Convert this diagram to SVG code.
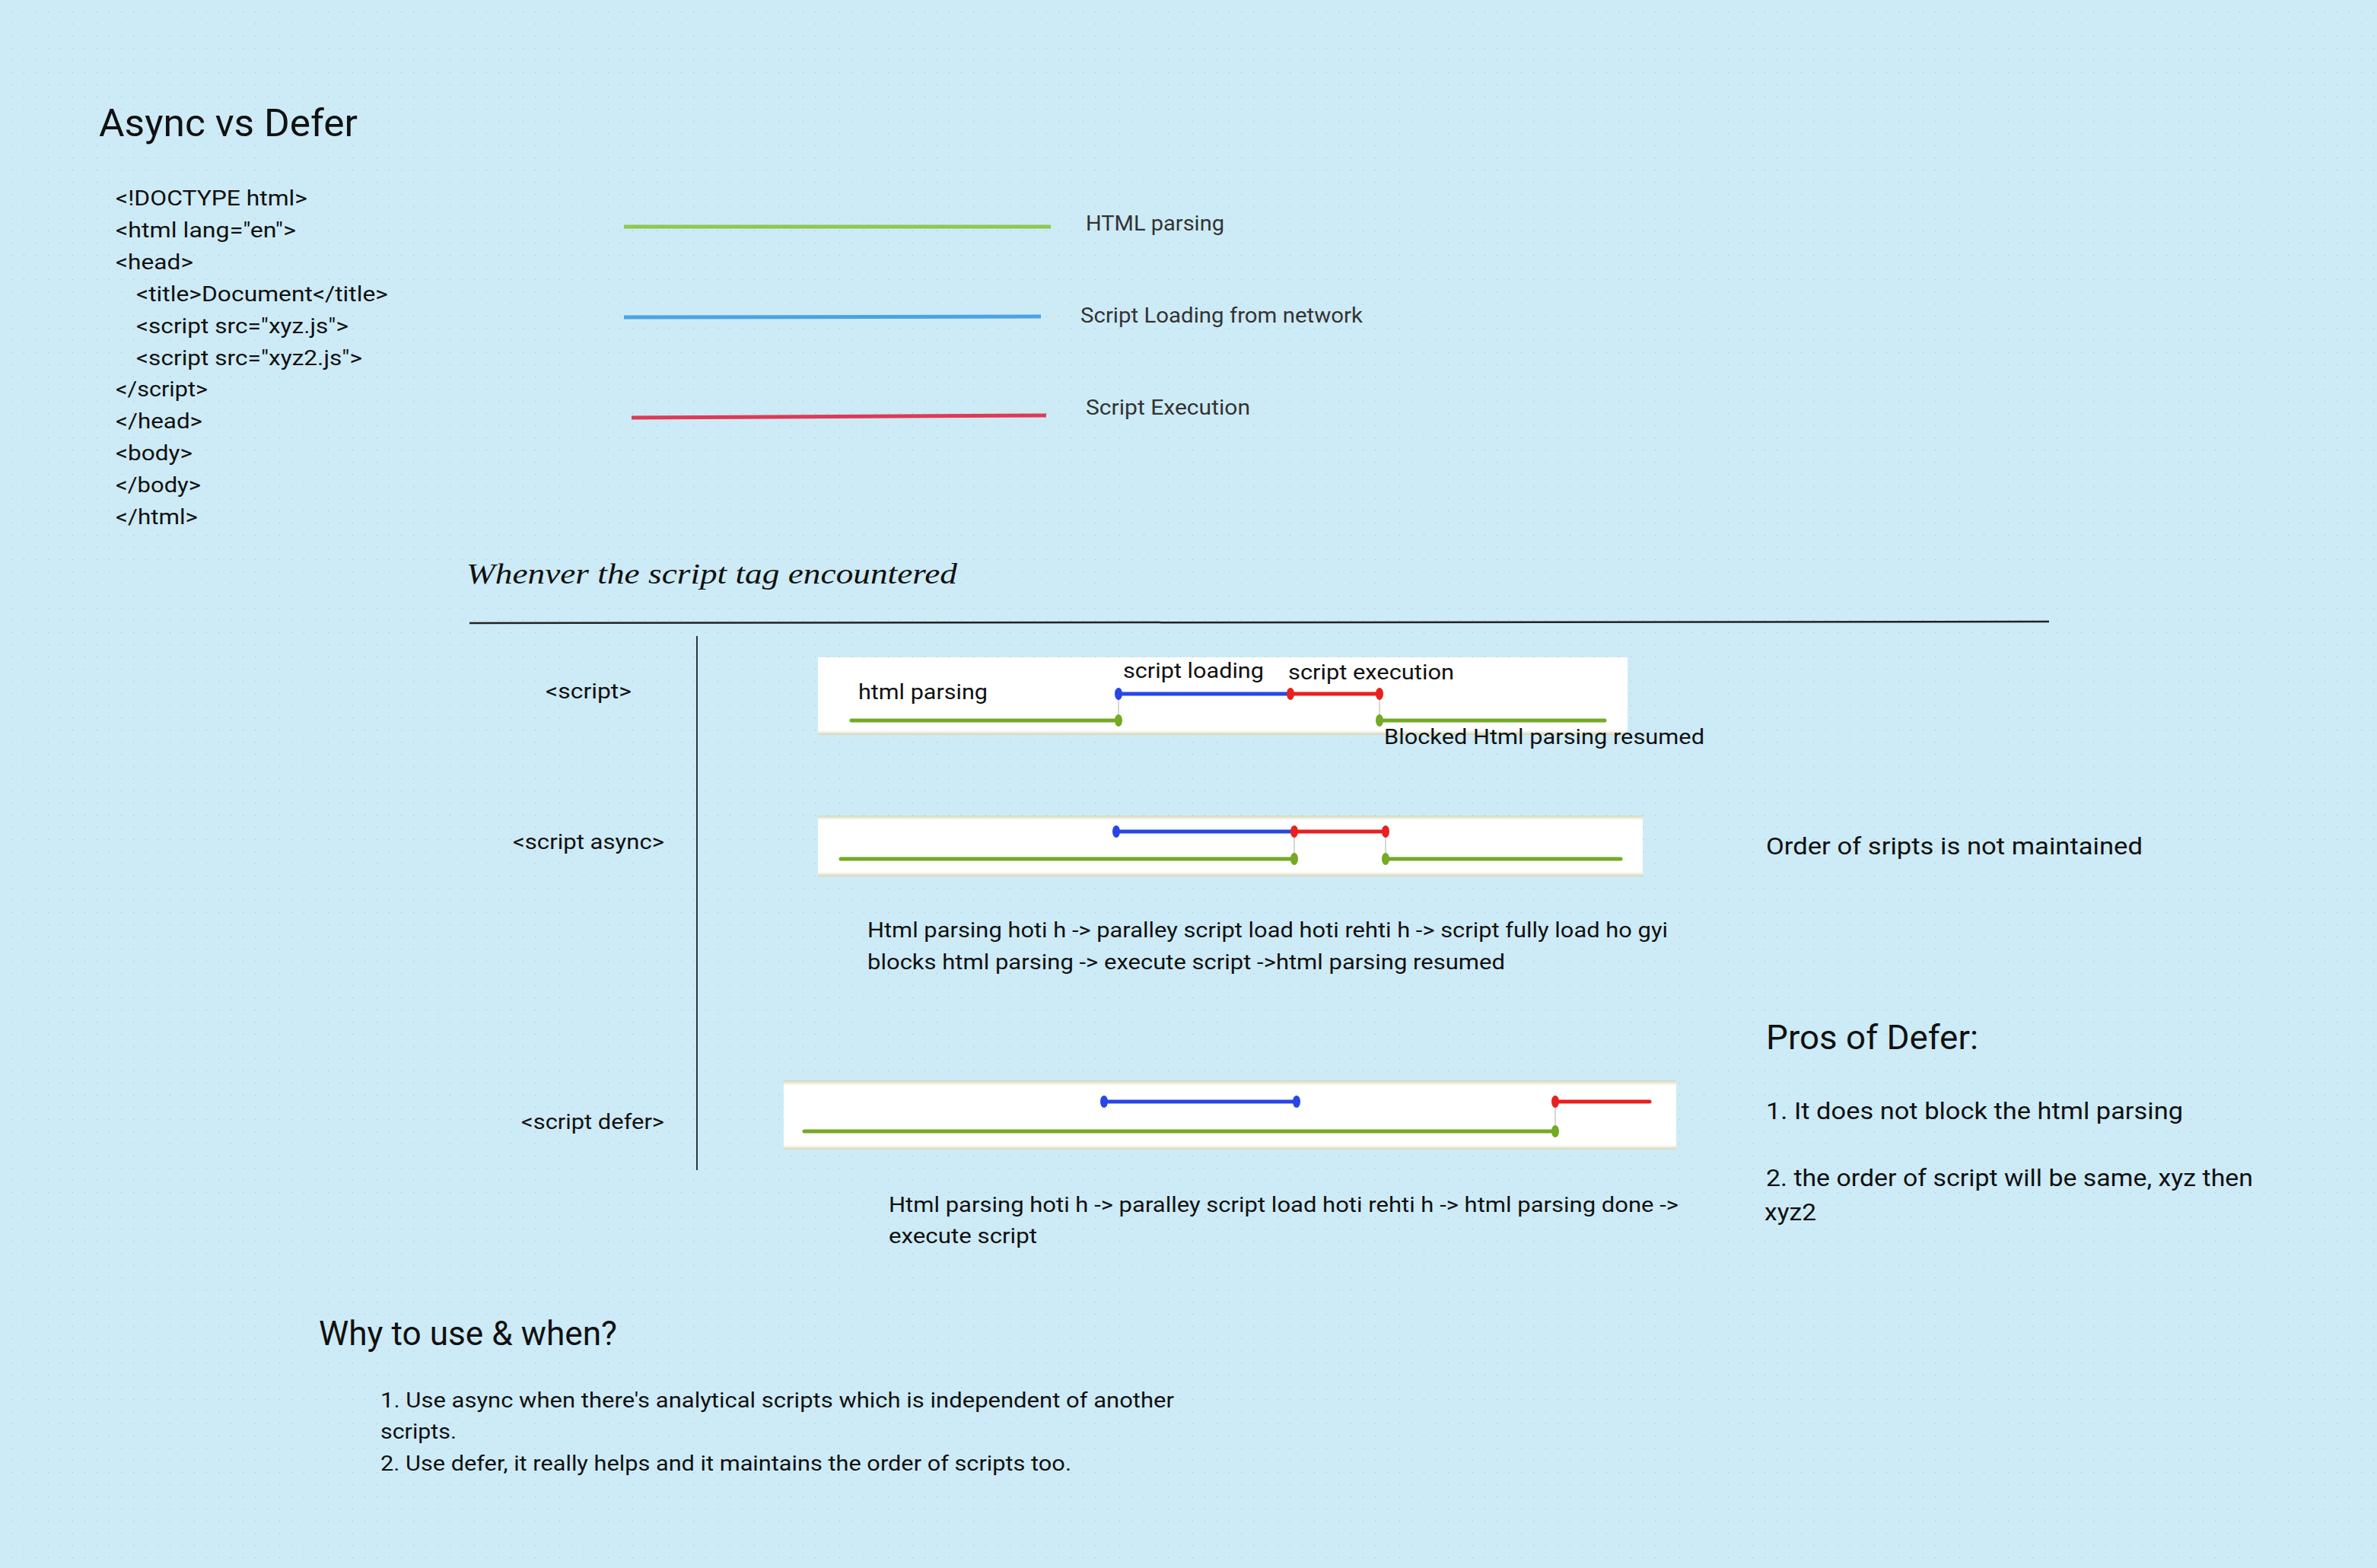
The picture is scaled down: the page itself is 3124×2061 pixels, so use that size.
<svg xmlns="http://www.w3.org/2000/svg" width="3124" height="2061" viewBox="0 0 3124 2061">
<defs>
<pattern id="dots" x="0" y="0" width="16" height="16" patternUnits="userSpaceOnUse">
<rect x="15" y="15" width="2" height="2" fill="#a8bac2"/>
</pattern>
<linearGradient id="edgeT" x1="0" y1="0" x2="0" y2="1">
<stop offset="0" stop-color="#d4d6b6"/><stop offset="1" stop-color="#ffffff"/>
</linearGradient>
<linearGradient id="edgeB" x1="0" y1="0" x2="0" y2="1">
<stop offset="0" stop-color="#ffffff"/><stop offset="1" stop-color="#d4d6b6"/>
</linearGradient>
</defs>
<style>
.t{font-family:Roboto,'Liberation Sans',Arial,sans-serif;fill:#111}
.code{font-size:28px}
.b{font-size:28px}
.r{font-size:32px}
.h{font-size:44px}
.leg{font-size:28px;fill:#333}
.hand{font-family:'Liberation Serif','DejaVu Serif',serif;font-style:italic;font-size:38px;fill:#111}
.bl{stroke:#2746e8;stroke-width:5;stroke-linecap:round;fill:none}
.rd{stroke:#e8201f;stroke-width:5;stroke-linecap:round;fill:none}
.gr{stroke:#74aa24;stroke-width:5;stroke-linecap:round;fill:none}
.tick{stroke:#c8c8c8;stroke-width:1.5}
.dB{fill:#2746e8}.dR{fill:#e8201f}.dG{fill:#74aa24}
.panel{fill:#ffffff}
</style>
<rect width="3124" height="2061" fill="#cdebf6"/>
<rect width="3124" height="2061" fill="url(#dots)"/>

<g id="title"><text class="t" x="130" y="179" font-size="50" textLength="340" lengthAdjust="spacingAndGlyphs">Async vs Defer</text></g>

<g id="code">
<text class="t code" x="152" y="270" textLength="252" lengthAdjust="spacingAndGlyphs">&lt;!DOCTYPE html&gt;</text>
<text class="t code" x="152" y="312" textLength="237" lengthAdjust="spacingAndGlyphs">&lt;html lang="en"&gt;</text>
<text class="t code" x="152" y="354" textLength="102" lengthAdjust="spacingAndGlyphs">&lt;head&gt;</text>
<text class="t code" x="179" y="396" textLength="331" lengthAdjust="spacingAndGlyphs">&lt;title&gt;Document&lt;/title&gt;</text>
<text class="t code" x="179" y="438" textLength="279" lengthAdjust="spacingAndGlyphs">&lt;script src="xyz.js"&gt;</text>
<text class="t code" x="179" y="480" textLength="297" lengthAdjust="spacingAndGlyphs">&lt;script src="xyz2.js"&gt;</text>
<text class="t code" x="152" y="521" textLength="121" lengthAdjust="spacingAndGlyphs">&lt;/script&gt;</text>
<text class="t code" x="152" y="563" textLength="114" lengthAdjust="spacingAndGlyphs">&lt;/head&gt;</text>
<text class="t code" x="152" y="605" textLength="101" lengthAdjust="spacingAndGlyphs">&lt;body&gt;</text>
<text class="t code" x="152" y="647" textLength="112" lengthAdjust="spacingAndGlyphs">&lt;/body&gt;</text>
<text class="t code" x="152" y="689" textLength="108" lengthAdjust="spacingAndGlyphs">&lt;/html&gt;</text>
</g>

<g id="legend">
<line x1="820" y1="298" x2="1381" y2="298" stroke="#8cc94e" stroke-width="5"/>
<text class="t leg" x="1427" y="303" textLength="182" lengthAdjust="spacingAndGlyphs">HTML parsing</text>
<line x1="820" y1="417" x2="1368" y2="416" stroke="#4ba3e3" stroke-width="5"/>
<text class="t leg" x="1420" y="424" textLength="371" lengthAdjust="spacingAndGlyphs">Script Loading from network</text>
<line x1="830" y1="549" x2="1375" y2="546" stroke="#de3a55" stroke-width="5"/>
<text class="t leg" x="1427" y="545" textLength="216" lengthAdjust="spacingAndGlyphs">Script Execution</text>
</g>

<g id="heading"><text class="hand" x="613" y="767" textLength="645" lengthAdjust="spacingAndGlyphs">Whenver the script tag encountered</text></g>

<g id="dividers">
<line x1="617" y1="819" x2="2693" y2="817" stroke="#222" stroke-width="2.5"/>
<line x1="916" y1="836" x2="916" y2="1538" stroke="#333" stroke-width="2"/>
</g>

<g id="row-script">
<text class="t b" x="717" y="918" textLength="113" lengthAdjust="spacingAndGlyphs">&lt;script&gt;</text>
<rect class="panel" x="1075" y="864" width="1064" height="102"/>
<rect x="1075" y="960" width="1064" height="6" fill="url(#edgeB)"/>
<text class="t b" x="1128" y="919" textLength="170" lengthAdjust="spacingAndGlyphs">html parsing</text>
<text class="t b" x="1476" y="891" textLength="185" lengthAdjust="spacingAndGlyphs">script loading</text>
<text class="t b" x="1693" y="893" textLength="218" lengthAdjust="spacingAndGlyphs">script execution</text>
<line class="tick" x1="1470" y1="912" x2="1470" y2="947"/>
<line class="tick" x1="1813" y1="912" x2="1813" y2="947"/>
<line class="bl" x1="1470" y1="912" x2="1696" y2="912"/>
<line class="rd" x1="1696" y1="912" x2="1813" y2="912"/>
<line class="gr" x1="1119" y1="947" x2="1470" y2="947"/>
<line class="gr" x1="1813" y1="947" x2="2109" y2="947"/>
<ellipse class="dB" cx="1470" cy="912" rx="5" ry="8"/>
<ellipse class="dR" cx="1696" cy="912" rx="5" ry="8"/>
<ellipse class="dR" cx="1813" cy="912" rx="5" ry="8"/>
<ellipse class="dG" cx="1470" cy="947" rx="5" ry="8"/>
<ellipse class="dG" cx="1813" cy="947" rx="5" ry="8"/>
<text class="t b" x="1819" y="978" textLength="421" lengthAdjust="spacingAndGlyphs">Blocked Html parsing resumed</text>
</g>

<g id="row-async">
<text class="t b" x="674" y="1116" textLength="199" lengthAdjust="spacingAndGlyphs">&lt;script async&gt;</text>
<rect class="panel" x="1075" y="1072" width="1084" height="80"/>
<rect x="1075" y="1072" width="1084" height="6" fill="url(#edgeT)"/>
<rect x="1075" y="1146" width="1084" height="6" fill="url(#edgeB)"/>
<line class="tick" x1="1701" y1="1093" x2="1701" y2="1129"/>
<line class="tick" x1="1821" y1="1093" x2="1821" y2="1129"/>
<line class="bl" x1="1467" y1="1093" x2="1701" y2="1093"/>
<line class="rd" x1="1701" y1="1093" x2="1821" y2="1093"/>
<line class="gr" x1="1105" y1="1129" x2="1701" y2="1129"/>
<line class="gr" x1="1821" y1="1129" x2="2130" y2="1129"/>
<ellipse class="dB" cx="1467" cy="1093" rx="5" ry="8"/>
<ellipse class="dR" cx="1701" cy="1093" rx="5" ry="8"/>
<ellipse class="dR" cx="1821" cy="1093" rx="5" ry="8"/>
<ellipse class="dG" cx="1701" cy="1129" rx="5" ry="8"/>
<ellipse class="dG" cx="1821" cy="1129" rx="5" ry="8"/>
<text class="t b" x="1140" y="1232" textLength="1052" lengthAdjust="spacingAndGlyphs">Html parsing hoti h -&gt; paralley script load hoti rehti h -&gt; script fully load ho gyi</text>
<text class="t b" x="1140" y="1274" textLength="838" lengthAdjust="spacingAndGlyphs">blocks html parsing -&gt; execute script -&gt;html parsing resumed</text>
</g>

<g id="row-defer">
<text class="t b" x="685" y="1484" textLength="188" lengthAdjust="spacingAndGlyphs">&lt;script defer&gt;</text>
<rect class="panel" x="1030" y="1420" width="1173" height="91"/>
<rect x="1030" y="1420" width="1173" height="7" fill="url(#edgeT)"/>
<rect x="1030" y="1505" width="1173" height="6" fill="url(#edgeB)"/>
<line class="tick" x1="2044" y1="1448" x2="2044" y2="1487"/>
<line class="bl" x1="1451" y1="1448" x2="1704" y2="1448"/>
<line class="rd" x1="2044" y1="1448" x2="2168" y2="1448"/>
<line class="gr" x1="1057" y1="1487" x2="2044" y2="1487"/>
<ellipse class="dB" cx="1451" cy="1448" rx="5" ry="8"/>
<ellipse class="dB" cx="1704" cy="1448" rx="5" ry="8"/>
<ellipse class="dR" cx="2044" cy="1448" rx="5" ry="8"/>
<ellipse class="dG" cx="2044" cy="1487" rx="5" ry="8"/>
<text class="t b" x="1168" y="1593" textLength="1038" lengthAdjust="spacingAndGlyphs">Html parsing hoti h -&gt; paralley script load hoti rehti h -&gt; html parsing done -&gt;</text>
<text class="t b" x="1168" y="1634" textLength="195" lengthAdjust="spacingAndGlyphs">execute script</text>
</g>

<g id="notes-right">
<text class="t r" x="2321" y="1123" textLength="495" lengthAdjust="spacingAndGlyphs">Order of sripts is not maintained</text>
<text class="t h" x="2321" y="1379" textLength="279" lengthAdjust="spacingAndGlyphs">Pros of Defer:</text>
<text class="t r" x="2321" y="1471" textLength="548" lengthAdjust="spacingAndGlyphs">1. It does not block the html parsing</text>
<text class="t r" x="2321" y="1559" textLength="640" lengthAdjust="spacingAndGlyphs">2. the order of script will be same, xyz then</text>
<text class="t r" x="2319" y="1604" textLength="68" lengthAdjust="spacingAndGlyphs">xyz2</text>
</g>

<g id="why">
<text class="t h" x="419" y="1768" textLength="392" lengthAdjust="spacingAndGlyphs">Why to use &amp; when?</text>
<text class="t b" x="500" y="1850" textLength="1043" lengthAdjust="spacingAndGlyphs">1. Use async when there's analytical scripts which is independent of another</text>
<text class="t b" x="500" y="1891" textLength="100" lengthAdjust="spacingAndGlyphs">scripts.</text>
<text class="t b" x="500" y="1933" textLength="908" lengthAdjust="spacingAndGlyphs">2. Use defer, it really helps and it maintains the order of scripts too.</text>
</g>
</svg>
